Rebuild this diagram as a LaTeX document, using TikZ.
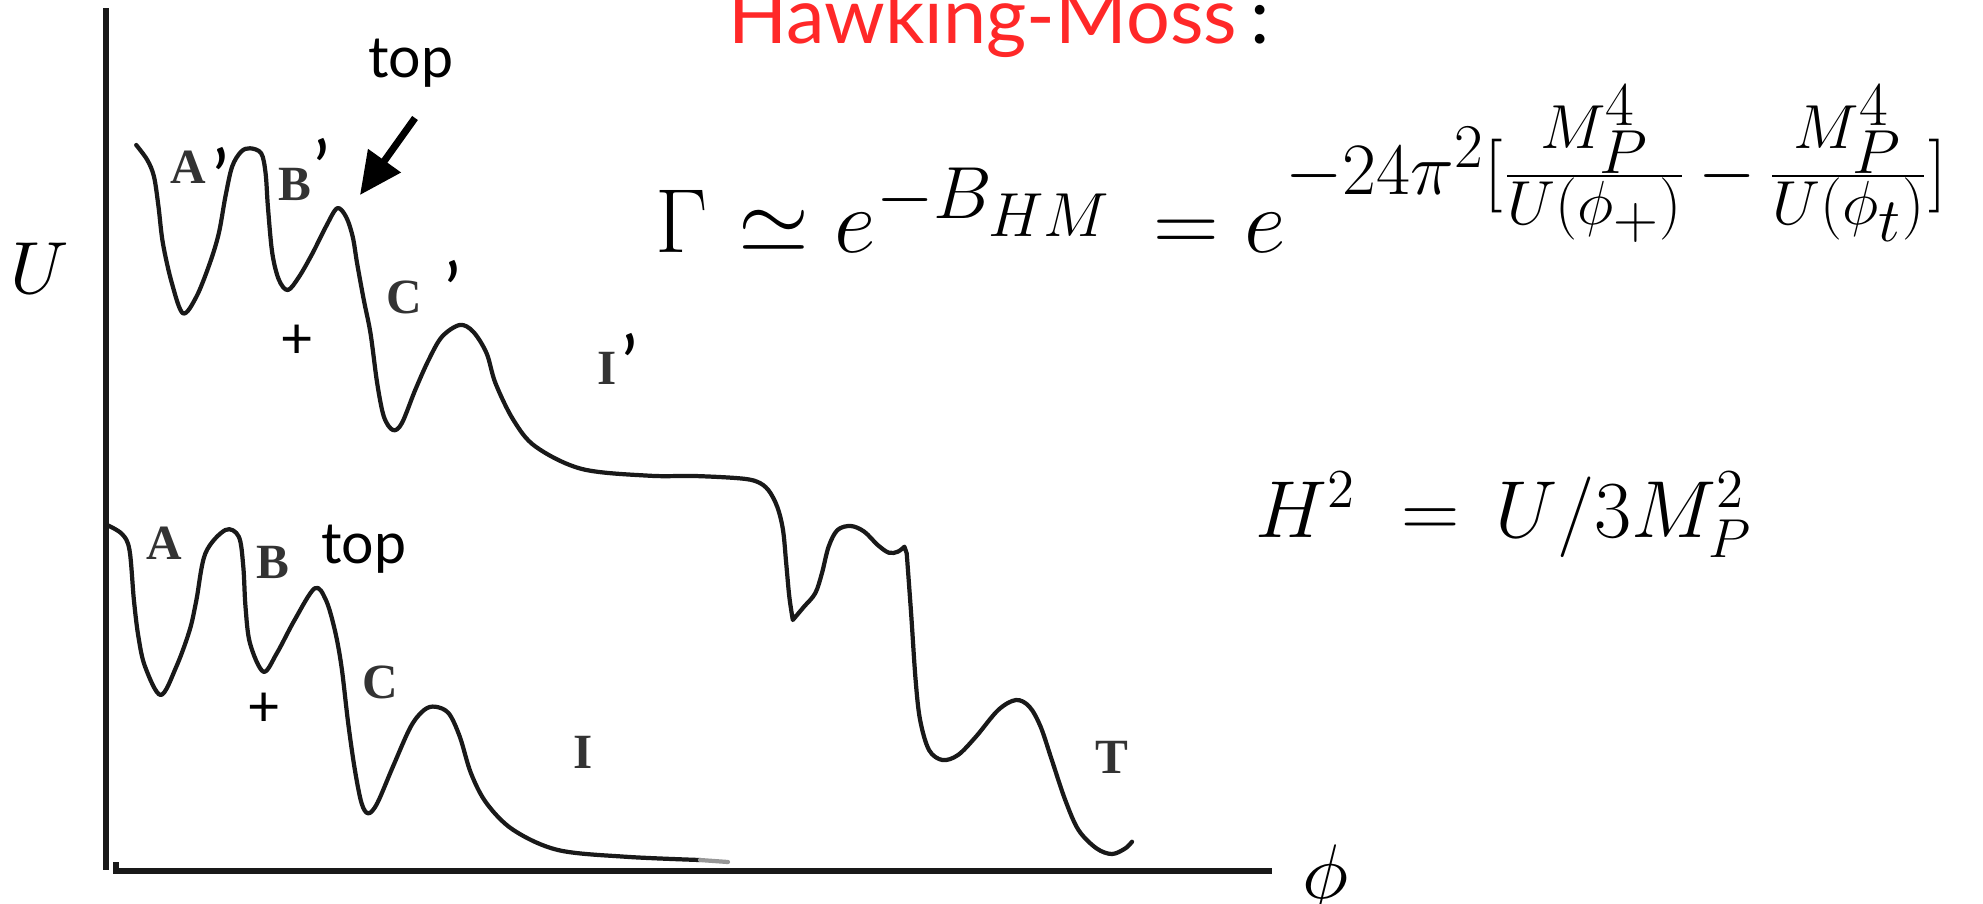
\RequirePackage{fix-cm}
\documentclass[tikz,border=0pt]{standalone}
\usepackage{fontspec}
\newfontfamily\gill{Lato}
\newfontfamily\tms{Liberation Serif}
\usetikzlibrary{arrows.meta}
\DeclareMathSizes{25.9}{25.9}{21}{17.7}
\DeclareMathSizes{23}{23}{15.6}{11.5}
\definecolor{hmred}{RGB}{255,40,40}
\definecolor{ink}{RGB}{25,25,25}
\begin{document}
\begin{tikzpicture}[x=0.01cm,y=-0.01cm,
  curve/.style={line width=1.2pt, draw=ink, line join=round, line cap=round},
  axis/.style={line width=1.9pt, draw=ink},
  lab/.style={font=\tms\bfseries\fontsize{14}{14}\selectfont, text=black!80, inner sep=0pt},
  prm/.style={font=\gill\fontsize{22}{22}\selectfont, inner sep=0pt, anchor=north},
  ann/.style={font=\gill\fontsize{16.3}{17}\selectfont, inner sep=0pt, anchor=base},
  mth/.style={inner sep=0pt, anchor=base west}
]
\useasboundingbox (0,0) rectangle (1983,903);
\clip (0,0) rectangle (1983,903);

% axes
\coordinate (ytop) at (106,8);
\coordinate (ybot) at (106,870);
\draw[axis] (ytop) -- (ybot);
\coordinate (xtick) at (116,862);
\coordinate (xorg) at (116,871);
\coordinate (xend) at (1272,871);
\draw[axis] (xtick) -- (xorg) -- (xend);

% lower curve
\draw[curve] plot[smooth, tension=0.55] coordinates {
(107.1,525) (122,534) (129.5,550) (133.9,600) (138.4,636.7) (145.1,666.7) (160.7,695)
(176.3,666.7) (189.7,630) (196.4,600) (205.4,553.3) (225.4,530) (238.8,536.7)
(243.3,566.7) (245.5,606.7) (250,643.3) (263.4,671.7) (276.8,653.3) (294.6,620)
(314.7,588.3) (325.9,600) (334.8,630) (341.5,666.7) (348.2,723.3) (354.9,770)
(361.6,803.3) (368.3,813.3) (377.2,803.3) (392.9,766.7) (410.7,726.7) (424.1,710)
(435.3,706.7) (448.7,713.3) (459.8,736.7) (471,773.3) (486.6,803.3) (513.4,830)
(558,850) (625,856.7) (700,860)};
\draw[curve, draw=ink!45] (700,860) -- (728,862);

% upper curve
\draw[curve] plot[smooth, tension=0.55] coordinates {
(136.2,145) (147.3,160) (154,176.7) (158.5,206.7) (162.9,243.3) (171.9,283.3) (183,313.3)
(196.4,296.7) (209.8,263.3) (218.8,233.3) (225.4,196.7) (232.1,166.7) (241.1,151.7)
(250,148.3) (261.2,153.3) (265.6,173.3) (267.9,206.7) (272.3,253.3) (279,280) (287.9,290)
(299.1,276.7) (312.5,253.3) (325.9,226.7) (337.1,208.3) (346,216.7) (352.7,236.7)
(357.1,263.3) (363.8,300) (370.5,333.3) (377.2,383.3) (383.9,416.7) (392.9,430)
(401.8,423.3) (415.2,390) (428.6,360) (442,336.7) (459.8,325) (473.2,331.7)
(486.6,353.3) (495.5,383.3) (513.4,420) (535.7,446.7) (582,469) (649,475.7)
(694.6,476) (739.3,478.3) (757.1,481.7) (768.3,490) (777.2,506.7) (783,530)
(786.2,563.3) (789.3,596.7) (792.8,620)}
 -- plot[smooth, tension=0.55] coordinates {
(792.8,620) (804,606.7) (815.2,593.3) (821.9,573.3) (828.6,546.7) (837.5,530)
(850.9,526) (864.3,531.7) (877.7,545) (888.8,552.7) (897.8,551.7) (904.4,546.7)}
 -- plot[smooth, tension=0.55] coordinates {
(906.7,553.3) (911.1,613.3) (915.6,680) (920.1,720) (929,750) (942.4,760) (958,755)
(975.9,736.7) (998.2,710) (1016,700) (1029.4,706.7) (1040.6,726.7) (1051.8,760)
(1065.2,800) (1078.5,830) (1096.4,848.3) (1112,854) (1125.4,848.3) (1132,841.7)};

% labels lower
\node[lab] (A) at (164,543) {A};
\node[lab] (B) at (273,562) {B};
\node[lab] (C) at (380,682) {C};
\node[lab] (I) at (583,752) {I};
\node[lab] (T) at (1112,757) {T};
% labels upper
\node[lab] (Au) at (188,167) {A};
\node[lab] (Bu) at (295,184) {B};
\node[lab] (Cu) at (404,297) {C};
\node[lab] (Iu) at (607,368) {I};
\node[prm] (Aup) at (221,147) {’};
\node[prm] (Bup) at (322,138) {’};
\node[prm] (Cup) at (453,260) {’};
\node[prm] (Iup) at (630,333) {’};

% plus signs and top
\node[ann, anchor=center] (plusU) at (297,342) {+};
\node[ann, anchor=center] (plusL) at (264,710) {+};
\node[ann] (topU) at (411,77) {top};
\node[ann] (topL) at (364,563) {top};
\coordinate (arrS) at (415,118);
\coordinate (arrE) at (360,195);
\draw[line width=2pt, draw=black, -{Triangle[length=12pt,width=11pt]}] (arrS) -- (arrE);

% title
\node[font=\gill\fontsize{22}{22}\selectfont, text=hmred, anchor=base west, inner sep=0pt] (hm) at (728,43) {Hawking-Moss};
\node[font=\gill\fontsize{22}{22}\selectfont, anchor=base, inner sep=0pt] (colon) at (1260,44) {:};

% axis labels
\node[scale=2.1, inner sep=0pt, anchor=base] (U) at (40,293) {$U$};
\node[scale=2.2, inner sep=0pt, anchor=base] (phi) at (1326,898) {$\phi$};

% formulas
\node[mth, font=\fontsize{25.9}{30}\selectfont] (gam) at (655,252) {$\Gamma \mkern1mu\simeq e^{-B_{HM}} \mkern3mu = e^{-24\pi^2[\frac{M_P^4}{U(\phi_+)}\mkern3mu-\mkern3mu\frac{M_P^4}{U(\phi_t)}]}$};
\node[mth, font=\fontsize{23}{28}\selectfont] (hub) at (1255,537) {$H^2 \mkern5mu = \mkern3mu U/3M_P^2$};
\end{tikzpicture}
\end{document}
